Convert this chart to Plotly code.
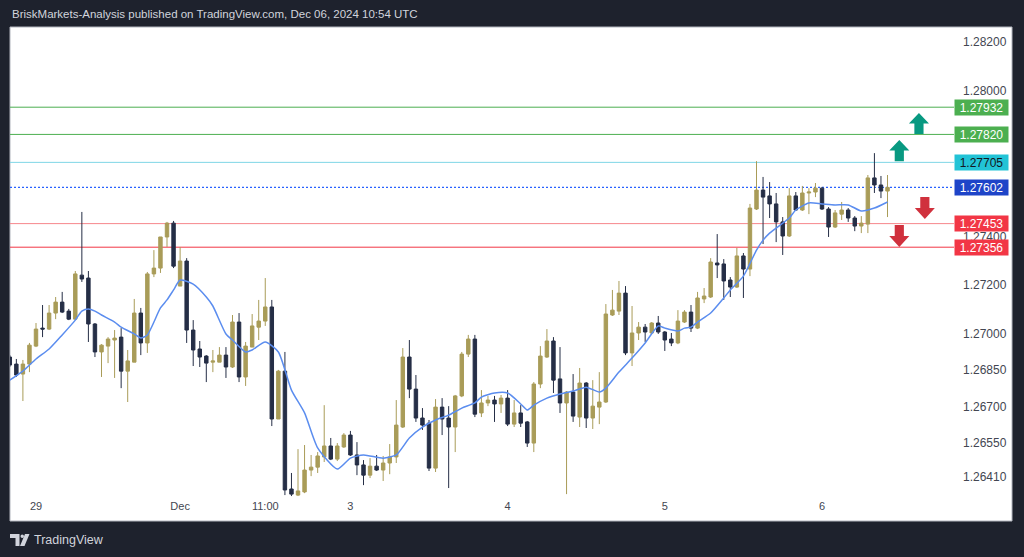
import plotly.graph_objects as go

# ---------------- data (hourly GBPUSD-style bars, index 0 = 29 Nov 00:00) ----------------
bar_index = list(range(-4, 131))

open_ = [1.26904, 1.26875, 1.26834, 1.26875, 1.26949, 1.27023, 1.27019, 1.27085, 1.27130, 1.27093,
         1.27060, 1.27241, 1.27229, 1.27040, 1.26925, 1.26949, 1.26974, 1.26986, 1.26846, 1.26883,
         1.27085, 1.26962, 1.27246, 1.27270, 1.27398, 1.27455, 1.27196, 1.27299, 1.27015, 1.26937,
         1.26908, 1.26883, 1.26883, 1.26912, 1.26863, 1.27048, 1.26822, 1.26945, 1.27027, 1.27052,
         1.27110, 1.26649, 1.26846, 1.26361, 1.26336, 1.26349, 1.26439, 1.26451, 1.26493, 1.26538,
         1.26484, 1.26534, 1.26583, 1.26501, 1.26460, 1.26418, 1.26455, 1.26439, 1.26468, 1.26493,
         1.26616, 1.26904, 1.26772, 1.26653, 1.26632, 1.26447, 1.26698, 1.26653, 1.26616, 1.26744,
         1.26916, 1.26978, 1.26674, 1.26715, 1.26727, 1.26711, 1.26735, 1.26628, 1.26674, 1.26637,
         1.26550, 1.26793, 1.26904, 1.26970, 1.26814, 1.26715, 1.26760, 1.26657, 1.26797, 1.26653,
         1.26698, 1.26719, 1.27077, 1.27093, 1.27167, 1.26921, 1.27003, 1.27027, 1.27003, 1.27044,
         1.27007, 1.26978, 1.26962, 1.27048, 1.27089, 1.27023, 1.27143, 1.27151, 1.27291, 1.27287,
         1.27221, 1.27192, 1.27320, 1.27266, 1.27513, 1.27591, 1.27567, 1.27534, 1.27460, 1.27402,
         1.27567, 1.27509, 1.27579, 1.27583, 1.27599, 1.27513, 1.27439, 1.27492, 1.27509, 1.27476,
         1.27443, 1.27451, 1.27641, 1.27612, 1.27587]

high = [1.26912, 1.26896, 1.26892, 1.26962, 1.27044, 1.27118, 1.27118, 1.27151, 1.27172, 1.27102,
        1.27258, 1.27501, 1.27258, 1.27044, 1.26957, 1.26986, 1.27015, 1.27023, 1.26933, 1.27143,
        1.27106, 1.27254, 1.27344, 1.27398, 1.27460, 1.27464, 1.27357, 1.27311, 1.27056, 1.26970,
        1.26912, 1.26933, 1.26945, 1.26945, 1.27077, 1.27085, 1.26966, 1.27081, 1.27139, 1.27229,
        1.27139, 1.26851, 1.26925, 1.26427, 1.26525, 1.26542, 1.26501, 1.26513, 1.26706, 1.26571,
        1.26550, 1.26591, 1.26600, 1.26554, 1.26480, 1.26488, 1.26501, 1.26497, 1.26546, 1.26727,
        1.26941, 1.26974, 1.26830, 1.26694, 1.26645, 1.26731, 1.26735, 1.26702, 1.26748, 1.26925,
        1.26995, 1.26995, 1.26768, 1.26744, 1.26744, 1.26748, 1.26768, 1.26727, 1.26706, 1.26641,
        1.26801, 1.26949, 1.27019, 1.26986, 1.26945, 1.26764, 1.26834, 1.26859, 1.26801, 1.26809,
        1.26842, 1.27122, 1.27180, 1.27217, 1.27196, 1.27114, 1.27048, 1.27040, 1.27048, 1.27073,
        1.27011, 1.27003, 1.27097, 1.27097, 1.27118, 1.27172, 1.27188, 1.27311, 1.27410, 1.27307,
        1.27233, 1.27353, 1.27332, 1.27534, 1.27710, 1.27645, 1.27624, 1.27579, 1.27480, 1.27599,
        1.27583, 1.27608, 1.27599, 1.27620, 1.27604, 1.27521, 1.27509, 1.27542, 1.27517, 1.27484,
        1.27484, 1.27653, 1.27743, 1.27649, 1.27653]

low = [1.26863, 1.26822, 1.26723, 1.26842, 1.26945, 1.26986, 1.27015, 1.27060, 1.27085, 1.27056,
       1.27056, 1.27213, 1.26966, 1.26904, 1.26822, 1.26879, 1.26818, 1.26776, 1.26719, 1.26883,
       1.26912, 1.26921, 1.27233, 1.27250, 1.27357, 1.27270, 1.27196, 1.26962, 1.26867, 1.26863,
       1.26801, 1.26842, 1.26883, 1.26818, 1.26859, 1.26801, 1.26785, 1.26945, 1.26974, 1.27032,
       1.26620, 1.26649, 1.26336, 1.26332, 1.26332, 1.26344, 1.26414, 1.26427, 1.26472, 1.26480,
       1.26476, 1.26530, 1.26497, 1.26418, 1.26377, 1.26406, 1.26435, 1.26394, 1.26422, 1.26468,
       1.26612, 1.26735, 1.26637, 1.26604, 1.26435, 1.26431, 1.26583, 1.26365, 1.26513, 1.26739,
       1.26904, 1.26657, 1.26657, 1.26702, 1.26637, 1.26674, 1.26620, 1.26616, 1.26616, 1.26534,
       1.26513, 1.26776, 1.26900, 1.26756, 1.26674, 1.26340, 1.26637, 1.26616, 1.26612, 1.26608,
       1.26628, 1.26715, 1.27073, 1.27077, 1.26912, 1.26867, 1.26974, 1.26966, 1.26999, 1.26999,
       1.26929, 1.26949, 1.26957, 1.27044, 1.27007, 1.27019, 1.27126, 1.27147, 1.27229, 1.27139,
       1.27151, 1.27188, 1.27147, 1.27237, 1.27509, 1.27369, 1.27476, 1.27377, 1.27324, 1.27398,
       1.27505, 1.27505, 1.27492, 1.27562, 1.27509, 1.27398, 1.27435, 1.27468, 1.27460, 1.27422,
       1.27414, 1.27414, 1.27579, 1.27558, 1.27480]

close = [1.26871, 1.26830, 1.26875, 1.26953, 1.27019, 1.27019, 1.27085, 1.27130, 1.27089, 1.27060,
         1.27246, 1.27225, 1.27040, 1.26925, 1.26953, 1.26978, 1.26982, 1.26846, 1.26888, 1.27085,
         1.26962, 1.27246, 1.27270, 1.27398, 1.27455, 1.27278, 1.27299, 1.27015, 1.26933, 1.26904,
         1.26879, 1.26888, 1.26912, 1.26863, 1.27048, 1.26822, 1.26949, 1.27032, 1.27052, 1.27110,
         1.26649, 1.26846, 1.26357, 1.26340, 1.26353, 1.26439, 1.26451, 1.26497, 1.26538, 1.26484,
         1.26538, 1.26583, 1.26501, 1.26460, 1.26418, 1.26455, 1.26439, 1.26468, 1.26493, 1.26624,
         1.26904, 1.26772, 1.26653, 1.26624, 1.26447, 1.26698, 1.26649, 1.26616, 1.26744, 1.26916,
         1.26978, 1.26669, 1.26715, 1.26727, 1.26711, 1.26735, 1.26628, 1.26674, 1.26632, 1.26550,
         1.26793, 1.26908, 1.26970, 1.26809, 1.26715, 1.26760, 1.26661, 1.26797, 1.26653, 1.26702,
         1.26719, 1.27081, 1.27097, 1.27167, 1.26921, 1.27003, 1.27027, 1.27007, 1.27044, 1.27007,
         1.26974, 1.26962, 1.27052, 1.27089, 1.27023, 1.27147, 1.27155, 1.27295, 1.27283, 1.27217,
         1.27192, 1.27320, 1.27266, 1.27517, 1.27591, 1.27562, 1.27534, 1.27460, 1.27402, 1.27567,
         1.27509, 1.27579, 1.27583, 1.27599, 1.27513, 1.27439, 1.27497, 1.27509, 1.27476, 1.27443,
         1.27455, 1.27641, 1.27612, 1.27587, 1.27602]

# moving-average line at these bar positions
ma_index = [-4, -2, 0, 2, 4, 6, 7, 8, 9, 10, 12, 13, 15, 16, 17, 19, 20, 21, 22, 24, 26, 27, 29, 30,
            32, 33, 35, 37, 39, 41, 43, 46, 48, 50, 53, 55, 57, 59, 61, 63, 65, 67, 68, 70, 72, 74,
            75, 76, 78, 80, 82, 84, 86, 87, 89, 91, 93, 95, 96, 98, 99, 100, 101, 103, 105, 106,
            108, 110, 111, 112, 115, 116, 118, 120, 122, 124, 126, 128, 130]
ma_value = [1.26809, 1.26846, 1.26896, 1.26937, 1.26995, 1.27056, 1.27093, 1.27102, 1.27093, 1.27077,
            1.27048, 1.27027, 1.26999, 1.26982, 1.26995, 1.27106, 1.27139, 1.27180, 1.27221, 1.27204,
            1.27151, 1.27114, 1.26999, 1.26974, 1.26925, 1.26933, 1.26966, 1.26925, 1.26768, 1.26674,
            1.26530, 1.26443, 1.26488, 1.26501, 1.26488, 1.26501, 1.26571, 1.26616, 1.26645, 1.26665,
            1.26694, 1.26715, 1.26739, 1.26756, 1.26756, 1.26711, 1.26686, 1.26706, 1.26735, 1.26752,
            1.26764, 1.26780, 1.26760, 1.26776, 1.26842, 1.26900, 1.26962, 1.27032, 1.27023, 1.27011,
            1.27023, 1.27027, 1.27048, 1.27085, 1.27147, 1.27180, 1.27237, 1.27344, 1.27385, 1.27414,
            1.27476, 1.27509, 1.27538, 1.27534, 1.27530, 1.27530, 1.27505, 1.27517, 1.27542]

# time-axis labels
time_tick_index = [0, 22, 35, 48, 72, 96, 120]
time_tick_text = ["29", "Dec", "11:00", "3", "4", "5", "6"]

# price-axis labels
price_ticks = [1.28200, 1.28000, 1.27400, 1.27200, 1.27000, 1.26850, 1.26700, 1.26550, 1.26410]

# horizontal levels
level_values = [1.27932, 1.27820, 1.27705, 1.27602, 1.27453, 1.27356]
level_line_colors = ["#4caf50", "#4caf50", "#7fd6e6", "#2962ff", "#f7868c", "#f23645"]
level_line_dash = ["solid", "solid", "solid", "2px,2px", "solid", "solid"]
level_label_bg = ["#4caf50", "#4caf50", "#22c3d6", "#1e44c8", "#f23645", "#f23645"]
level_label_fg = ["#ffffff", "#ffffff", "#131722", "#ffffff", "#ffffff", "#ffffff"]

# ---------------- figure ----------------
UP = "#a99c58"
DOWN = "#252e46"

fig = go.Figure()
fig.add_trace(go.Candlestick(
    x=bar_index, open=open_, high=high, low=low, close=close,
    increasing=dict(line=dict(color=UP, width=1), fillcolor=UP),
    decreasing=dict(line=dict(color=DOWN, width=1), fillcolor=DOWN),
    whiskerwidth=0, hoverinfo="skip", showlegend=False))
fig.add_trace(go.Scatter(
    x=ma_index, y=ma_value, mode="lines",
    line=dict(color="#5b8def", width=1.5, shape="spline", smoothing=0.6),
    hoverinfo="skip", showlegend=False))

# geometry helpers (pixel -> paper)
L_PX, R_PX, T_PX, B_PX = 10, 950, 27, 498
def px_x(px):
    return (px - L_PX) / (R_PX - L_PX)
def px_y(py):
    return (B_PX - py) / (B_PX - T_PX)

shapes = []
# white chart card
shapes.append(dict(type="rect", xref="paper", yref="paper", x0=px_x(10), x1=px_x(1012),
                   y0=px_y(521), y1=px_y(27), fillcolor="#ffffff",
                   line=dict(color="#b2b5be", width=1), layer="below"))
# level lines
for v, c, d in zip(level_values, level_line_colors, level_line_dash):
    shapes.append(dict(type="line", xref="paper", yref="y", x0=0, x1=px_x(954), y0=v, y1=v,
                       line=dict(color=c, width=1.2 if d != "solid" else 1, dash=d), layer="below"))

# block arrows (drawn in data coordinates)
def block_arrow(xc, ytop, ybot, up, color):
    hw, sw = 1.53, 0.70
    ymid = (ytop + ybot) / 2
    if up:
        pts = [(xc, ytop), (xc + hw, ymid), (xc + sw, ymid), (xc + sw, ybot),
               (xc - sw, ybot), (xc - sw, ymid), (xc - hw, ymid)]
    else:
        pts = [(xc, ybot), (xc + hw, ymid), (xc + sw, ymid), (xc + sw, ytop),
               (xc - sw, ytop), (xc - sw, ymid), (xc - hw, ymid)]
    path = "M " + " L ".join(f"{x},{y}" for x, y in pts) + " Z"
    return dict(type="path", xref="x", yref="y", path=path, fillcolor=color,
                line=dict(width=0), layer="above")

GREEN_ARROW = "#089981"
RED_ARROW = "#d0313d"
shapes.append(block_arrow(134.8, 1.27908, 1.27822, True, GREEN_ARROW))
shapes.append(block_arrow(131.8, 1.27797, 1.27710, True, GREEN_ARROW))
shapes.append(block_arrow(135.7, 1.27562, 1.27472, False, RED_ARROW))
shapes.append(block_arrow(131.8, 1.27447, 1.27357, False, RED_ARROW))

# TradingView logo (footer)
def P(px, py):
    return f"{px_x(px)},{px_y(py)}"
shapes.append(dict(type="path", xref="paper", yref="paper",
                   path=f"M {P(10,534)} L {P(19.5,534)} L {P(19.5,546)} L {P(15.5,546)} L {P(15.5,538)} L {P(10,538)} Z",
                   fillcolor="#d1d4dc", line=dict(width=0)))
shapes.append(dict(type="circle", xref="paper", yref="paper",
                   x0=px_x(20.5), x1=px_x(24), y0=px_y(538), y1=px_y(534.5),
                   fillcolor="#d1d4dc", line=dict(width=0)))
shapes.append(dict(type="path", xref="paper", yref="paper",
                   path=f"M {P(25,534)} L {P(29.5,534)} L {P(24.5,546)} L {P(20,546)} Z",
                   fillcolor="#d1d4dc", line=dict(width=0)))

annotations = []
for v, bg, fg in zip(level_values, level_label_bg, level_label_fg):
    annotations.append(dict(xref="paper", yref="y", x=px_x(981.5), y=v, text=f"{v:.5f}",
                            showarrow=False, xanchor="center", yanchor="middle",
                            bgcolor=bg, width=51, height=13, borderpad=1,
                            font=dict(family="Liberation Sans", size=12, color=fg)))
annotations.append(dict(xref="paper", yref="paper", x=0, y=px_y(14),
                        text="BriskMarkets-Analysis published on TradingView.com, Dec 06, 2024 10:54 UTC",
                        showarrow=False, xanchor="left", yanchor="middle",
                        font=dict(family="Liberation Sans", size=11.5, color="#d1d4dc")))
annotations.append(dict(xref="paper", yref="paper", x=px_x(32), y=px_y(540),
                        text="TradingView", showarrow=False, xanchor="left", yanchor="middle",
                        font=dict(family="Liberation Sans", size=12.5, color="#d1d4dc")))

fig.update_layout(
    width=1024, height=557,
    margin=dict(l=L_PX, r=1024 - R_PX, t=T_PX, b=557 - B_PX, pad=0),
    paper_bgcolor="#1e222d", plot_bgcolor="#ffffff",
    showlegend=False, hovermode=False, boxgap=0.25,
    shapes=shapes, annotations=annotations,
    xaxis=dict(range=[-3.97, 139.54], showgrid=False, zeroline=False, showline=False,
               tickmode="array", tickvals=time_tick_index, ticktext=time_tick_text, ticks="",
               tickfont=dict(family="Liberation Sans", size=11, color="#434651"),
               rangeslider=dict(visible=False), fixedrange=True),
    yaxis=dict(side="right", range=[1.26324, 1.28262], showgrid=False, zeroline=False,
               showline=False, tickmode="array", tickvals=price_ticks,
               ticktext=[f"{t:.5f}" for t in price_ticks], ticks="", ticklabelstandoff=12,
               tickfont=dict(family="Liberation Sans", size=12, color="#434651"),
               fixedrange=True),
)

fig.write_html("out.html")
